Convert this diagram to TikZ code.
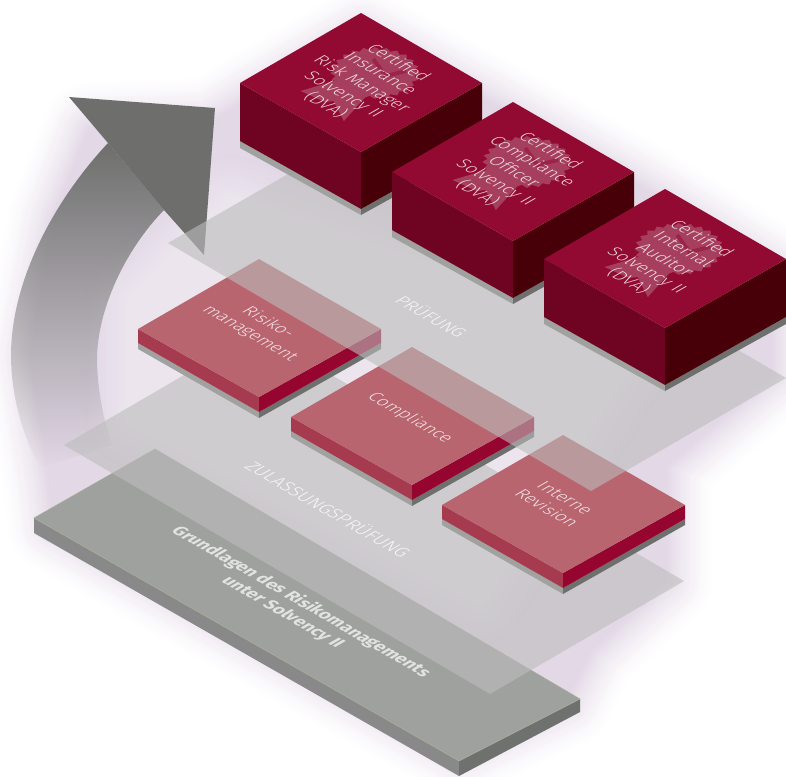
\documentclass[tikz,border=0pt]{standalone}
\usepackage{fontspec}
\setmainfont{Fira Sans Light}[BoldFont=Fira Sans Bold]
\usetikzlibrary{fadings}
\definecolor{glowc}{HTML}{E2D7E6}
\definecolor{glowin}{HTML}{ECE6EE}
\definecolor{boxtop}{HTML}{920A32}
\definecolor{boxleft}{HTML}{6F0422}
\definecolor{boxright}{HTML}{470008}
\definecolor{sealc}{HTML}{A63F5E}
\definecolor{sealv}{HTML}{9A2548}
\definecolor{plattop}{HTML}{B96570}
\definecolor{platleft}{HTML}{A63A4E}
\definecolor{platright}{HTML}{96052F}
\definecolor{footl}{HTML}{A0A2A0}
\definecolor{footr}{HTML}{6E706E}
\definecolor{basetop}{HTML}{9FA19E}
\definecolor{baseleft}{HTML}{888988}
\definecolor{baseright}{HTML}{6F716E}
\definecolor{baseedge}{HTML}{A9AB98}
\definecolor{planec}{HTML}{BCBCBC}
\definecolor{arrowc}{HTML}{6E6F6D}
\tikzfading[name=arrowfade, top color=transparent!0, middle color=transparent!45, bottom color=transparent!100]
\tikzset{
  plane/.style={fill=planec, fill opacity=.6},
  boxtext/.style={transform shape, align=center, text=white, text opacity=.8, font=\fontsize{10}{12}\selectfont, inner sep=0pt},
  flattext/.style={transform shape, align=center, text=white, text opacity=.8, font=\fontsize{10}{12}\selectfont, inner sep=0pt},
  widetext/.style={flattext, font=\fontsize{10.4}{12}\selectfont},
  basetext/.style={transform shape, align=center, text=white, text opacity=.7, font=\fontsize{10}{12}\selectfont\bfseries, inner sep=0pt}
}
\newcommand{\isolabel}[5]{%
  \begin{scope}[shift={(#2,#3)},cm={.866,-.5,.866,.5,(0,0)}]
    \node[#4] (#1) at (0,0) {#5};
  \end{scope}}
\newcommand{\certbox}[2]{%
  \begin{scope}[shift={(#1,#2)}]
    \fill[footl] (240,141) -- (361,209) -- (361,215) -- (240,148) -- cycle;
    \fill[footr] (361,209) -- (482,141) -- (482,148) -- (361,215) -- cycle;
    \fill[boxleft] (240,83) -- (361,152) -- (361,209) -- (240,141) -- cycle;
    \fill[boxright] (361,152) -- (482,83) -- (482,141) -- (361,209) -- cycle;
    \fill[boxtop] (361,13) -- (482,83) -- (361,152) -- (240,83) -- cycle;
    \begin{scope}[shift={(375,73)},cm={.866,-.5,.866,.5,(0,0)}]
      \fill[sealc] (-15,30) -- (-25,61) -- (0,58) -- (4,52) -- (30,66) -- (18,28) -- cycle;
      \fill[sealc] plot[domain=0:360,samples=97] (\x:{34.5+2*cos(24*\x)}) -- cycle;
      \draw[sealv, line width=2.2pt, line join=miter] (-15,-13) -- (9,-3) -- (16,-20);
    \end{scope}
  \end{scope}}
\newcommand{\plate}[2]{%
  \begin{scope}[shift={(#1,#2)}]
    \fill[footl] (0,14) -- (121,83) -- (121,89) -- (0,20) -- cycle;
    \fill[footr] (121,83) -- (243,14) -- (243,20) -- (121,89) -- cycle;
    \fill[platleft] (0,0) -- (121,68) -- (121,83) -- (0,14) -- cycle;
    \fill[platright] (121,68) -- (243,0) -- (243,14) -- (121,83) -- cycle;
    \fill[plattop] (121,-70) -- (243,0) -- (121,68) -- (0,0) -- cycle;
  \end{scope}}
\def\glowpath{(90,130) -- (210,125) -- (250,100) -- (361,35) -- (482,100) -- (634,185) -- (770,270) -- (770,375) -- (665,465) -- (665,580) -- (590,650) -- (565,700) -- (459,750) -- (55,525) -- (50,480) -- (30,355) -- (55,220) -- cycle}
\def\innerpath{(130,300) -- (230,200) -- (640,340) -- (480,600) -- (130,420) -- cycle}
\begin{document}
\begin{tikzpicture}[x=0.02cm,y=-0.02cm]
\useasboundingbox (0,0) rectangle (786,776);
\clip (0,0) rectangle (786,776);
\fill[white] (0,0) rectangle (786,776);
% soft glow: nested opaque outlines from faint and wide to full and narrow
\foreach \t in {1.00,0.97,...,0}{
  \pgfmathsetmacro{\r}{\t*50}
  \pgfmathsetmacro{\k}{100*(1-\t)^1.4}
  \filldraw[fill=glowc!\k!white, draw=glowc!\k!white, line join=round, line width=2*\r*0.5692pt] \glowpath;
}
\foreach \t in {1.00,0.95,...,0}{
  \pgfmathsetmacro{\r}{\t*45}
  \pgfmathsetmacro{\k}{100*(1-\t)}
  \filldraw[fill=glowin!\k!glowc, draw=glowin!\k!glowc, line join=round, line width=2*\r*0.5692pt] \innerpath;
}
% arrow
\fill[arrowc, path fading=arrowfade] (108,143) .. controls (50,205) and (11,285) .. (11,355)
  .. controls (11,395) and (22,435) .. (40,468) -- (112,445)
  .. controls (103,420) and (97,385) .. (97,360)
  .. controls (97,310) and (125,250) .. (164,210) -- cycle;
\fill[arrowc] (69,97) -- (215,108) -- (204,255) -- (164,210) -- (108,143) -- cycle;
% base slab
\fill[baseleft] (34,518) -- (459,761) -- (459,776) -- (34,533) -- cycle;
\fill[baseright] (459,761) -- (580,699) -- (580,712) -- (459,776) -- cycle;
\fill[basetop, draw=baseedge, line width=.3pt] (155,449) -- (580,699) -- (459,761) -- (34,518) -- cycle;
% lower plane
\fill[plane] (64,445) -- (258,332) -- (684,581) -- (490,694) -- cycle;
% plates
\plate{138}{329}
\plate{291}{417}
\plate{442}{505}
% upper plane
\fill[plane] (168,243) -- (363,131) -- (786,378) -- (591,491) -- cycle;
% boxes
\certbox{0}{0}
\certbox{152}{89}
\certbox{304}{176}
% labels
\isolabel{cert1}{362}{84}{boxtext}{Certified\\Insurance\\Risk Manager\\Solvency II\\(DVA)}
\isolabel{cert2}{514}{172}{boxtext}{Certified\\Compliance\\Officer\\Solvency II\\(DVA)}
\isolabel{cert3}{665}{260}{boxtext}{Certified\\Internal\\Auditor\\Solvency II\\(DVA)}
\isolabel{risk}{259}{328}{flattext}{Risiko-\\management}
\isolabel{comp}{410}{418}{flattext}{Compliance}
\isolabel{rev}{556}{503}{flattext}{Interne\\Revision}
\isolabel{pruef}{432}{316}{flattext}{PRÜFUNG}
\isolabel{zul}{329}{509}{widetext}{ZULASSUNGSPRÜFUNG}
\isolabel{grund}{292}{607}{basetext}{Grundlagen des Risikomanagements\\unter Solvency II}
\end{tikzpicture}
\end{document}
